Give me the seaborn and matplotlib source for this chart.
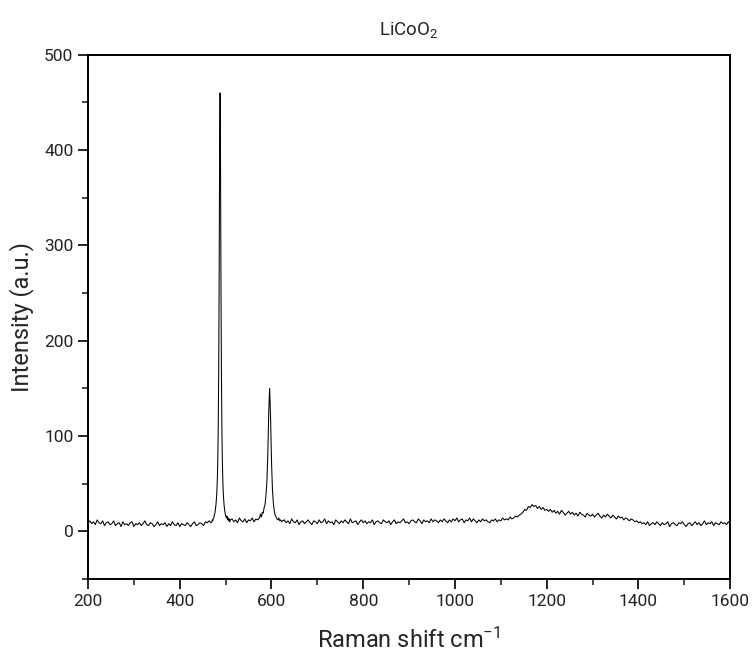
# Raman spectrum of LiCoO2
import numpy as np
import matplotlib
matplotlib.use('Agg')
import matplotlib.pyplot as plt
import pandas as pd
import seaborn as sns
from matplotlib.ticker import MultipleLocator

# intensity, segment by segment
base_left = [9, 11, 8, 10, 7, 12, 9, 8, 11, 6,
             9, 10, 7, 8, 11, 6, 8, 9, 5, 10,
             7, 8, 6, 9, 10, 5, 8, 7, 9, 6,
             8, 11, 7, 6, 9, 8, 5, 7, 10, 6,
             8, 7, 9, 5, 8, 6, 10, 7, 6, 9,
             5, 8, 7, 6, 9, 7, 5, 8, 10, 6,
             7, 9, 8, 6, 10, 9, 11, 9]                      # 200-468, step 4
peak_487 = [10, 12, 11, 13, 14, 16, 18, 20, 24, 28,
            34, 42, 55, 75, 110, 170, 270, 400, 460, 380,
            250, 160, 105, 72, 52, 40, 32, 26, 22, 19,
            17, 15, 14, 16, 13, 12, 14, 11, 13, 10, 12]     # 470-510, step 1
base_mid = [13, 10, 12, 9, 14, 11, 10, 13, 9, 12, 11, 14, 10, 13, 12]  # 514-570, step 4
peak_596 = [14, 18, 15, 20, 19, 25, 28, 38, 52, 80,
            125, 150, 120, 75, 45, 30, 22, 17, 15, 13,
            12, 14, 11, 12, 10, 11]                         # 574-624, step 2
base_right = [12, 9, 11, 8, 13, 10, 9, 12, 7, 10,
              11, 8, 10, 12, 9, 7, 11, 10, 8, 12,
              9, 10, 13, 8, 11, 9, 10, 7, 12, 10,
              8, 11, 9, 12, 10, 8, 13, 9, 10, 11,
              7, 10, 12, 9, 11, 8, 10, 9, 12, 7,
              10, 11, 9, 8, 12, 10, 9, 11, 7, 10,
              12, 8, 10, 9, 11, 13, 9, 10, 8, 11,
              12, 10, 9, 13, 11, 8, 12, 10, 11, 9,
              13, 10, 12, 11, 9, 12, 10, 13, 11, 9,
              12, 10, 13,                                   # 628-996
              11, 14, 10, 12, 13, 9, 12, 11, 14, 10,
              13, 11, 9, 12, 10, 13, 11, 12, 10, 9,
              12, 11, 13, 10, 12, 11, 14, 12, 13, 12,
              15, 13, 14, 16, 15, 17,                       # 1000-1140
              18, 20, 23, 22, 26, 25, 28, 26, 27, 24,
              26, 23, 25, 22, 23,                           # 1144-1200
              21, 23, 20, 22, 19, 21, 18, 22, 20, 17,
              19, 21, 18, 20, 17, 19, 16, 20, 18, 17,
              15, 19, 17, 16, 18, 15, 17, 19, 16, 14,
              17, 15, 18, 16, 14, 17, 15, 13, 16, 14,
              15, 12, 14, 13, 11, 13, 12, 10, 11, 9,       # 1204-1400
              10, 8, 9, 7, 10, 6, 8, 9, 7, 10,
              8, 6, 9, 7, 8, 10, 5, 8, 9, 7,
              6, 9, 8, 10, 7, 5, 8, 9, 6, 8,
              10, 7, 9, 6, 8, 11, 7, 9, 8, 10,
              6, 9, 8, 7, 10, 8, 9, 7, 10, 8]               # 1404-1600

shift = np.concatenate([np.arange(200, 469, 4), np.arange(470, 511, 1),
                        np.arange(514, 571, 4), np.arange(574, 625, 2),
                        np.arange(628, 1601, 4)])
intensity = base_left + peak_487 + base_mid + peak_596 + base_right

df = pd.DataFrame({'shift': shift, 'intensity': intensity})

sns.set_style('ticks')
plt.rcParams['font.family'] = ['Roboto', 'DejaVu Sans']
plt.rcParams['mathtext.fontset'] = 'custom'
plt.rcParams['mathtext.rm'] = 'Roboto'
plt.rcParams['mathtext.it'] = 'Roboto'

fig = plt.figure(figsize=(7.52, 6.52), dpi=100)
ax = fig.add_axes([0.117, 0.112, 0.854, 0.804])

sns.lineplot(data=df, x='shift', y='intensity', color='black', linewidth=0.75, ax=ax)

ax.set_xlim(200, 1600)
ax.set_ylim(-50, 500)
ax.xaxis.set_major_locator(MultipleLocator(200))
ax.xaxis.set_minor_locator(MultipleLocator(100))
ax.yaxis.set_major_locator(MultipleLocator(100))
ax.yaxis.set_minor_locator(MultipleLocator(50))
ax.tick_params(which='major', direction='out', length=7, width=1.2, labelsize=12.5,
               colors='black', labelcolor='#222222')
ax.tick_params(which='minor', direction='out', length=4, width=1.2)
for s in ax.spines.values():
    s.set_linewidth(1.4)
    s.set_color('black')

ax.set_title('LiCoO$_2$', fontsize=13.5, pad=14)
ax.set_xlabel('Raman shift cm$^{-1}$', fontsize=17, labelpad=14)
ax.set_ylabel('Intensity (a.u.)', fontsize=17, labelpad=7)

fig.savefig('out.png', dpi=100)
